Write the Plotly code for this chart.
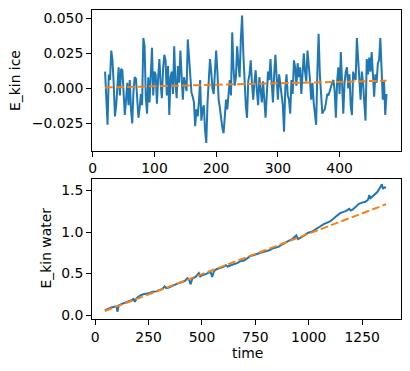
import numpy as np
import plotly.graph_objects as go

# ---- top panel: E_kin ice ----
ice_time = list(range(20, 477, 2))
ice_values = [
    0.012, -0.004, -0.026, 0.010, 0.006, 0.027, 0.020, 0.003, -0.020, -0.012,
    0.004, 0.015, -0.005, 0.014, 0.013, -0.004, -0.019, -0.008, 0.004, -0.012,
    0.006, -0.015, -0.025, -0.002, 0.008, 0.007, -0.010, -0.021, -0.014, -0.004,
    -0.012, 0.036, 0.030, -0.006, -0.018, 0.008, -0.010, 0.005, 0.029, -0.005,
    0.012, 0.010, -0.011, 0.008, 0.021, 0.003, -0.007, 0.014, 0.024, 0.020,
    -0.005, 0.016, -0.019, 0.008, 0.012, -0.004, 0.030, 0.004, -0.007, 0.016,
    0.004, 0.027, 0.006, -0.008, 0.008, 0.004, -0.002, 0.035, 0.020, 0.005,
    -0.003, -0.006, -0.010, -0.027, -0.015, -0.020, -0.010, 0.006, -0.023, -0.015,
    -0.012, -0.030, -0.039, -0.010, 0.008, 0.021, 0.012, 0.000, -0.004, 0.010,
    0.027, 0.012, -0.008, -0.014, -0.022, -0.028, -0.032, -0.018, -0.008, -0.015,
    -0.006, 0.006, -0.005, 0.040, 0.015, 0.002, 0.008, 0.030, 0.018, 0.008,
    0.035, 0.052, 0.025, 0.003, -0.012, -0.021, 0.005, 0.010, 0.020, 0.004,
    -0.008, 0.004, 0.013, -0.002, -0.012, 0.008, 0.000, -0.010, 0.005, -0.008,
    -0.021, -0.005, 0.012, 0.006, 0.021, 0.004, -0.010, 0.010, 0.024, 0.008,
    -0.008, 0.010, 0.003, -0.004, -0.012, -0.031, 0.000, 0.010, -0.005, -0.008,
    -0.018, 0.006, -0.004, 0.020, 0.015, 0.002, 0.018, 0.008, 0.015, -0.004,
    0.010, 0.025, 0.012, 0.005, 0.027, 0.012, 0.006, -0.008, 0.004, -0.010,
    -0.020, -0.026, 0.012, 0.039, 0.010, -0.006, -0.018, -0.016, -0.015, -0.010,
    -0.004, -0.005, -0.002, 0.002, 0.004, 0.006, -0.002, -0.021, 0.005, 0.015,
    -0.004, 0.026, 0.008, -0.018, 0.004, 0.012, 0.015, 0.000, 0.010, -0.012,
    -0.019, 0.012, 0.008, 0.006, 0.036, 0.020, 0.010, -0.008, 0.012, 0.004,
    -0.010, -0.023, 0.021, 0.010, 0.022, 0.012, 0.026, 0.008, -0.006, 0.010,
    0.004, 0.018, 0.020, 0.036, 0.015, -0.008, 0.005, -0.019, -0.004,
]
ice_trend_time = [20, 476]
ice_trend_values = [0.0007, 0.0055]

# ---- bottom panel: E_kin water ----
water_time = [
    45, 60, 75, 90, 100, 104, 110, 125, 140, 155, 170, 180, 186, 195, 210, 225,
    240, 255, 270, 285, 300, 315, 325, 333, 345, 360, 375, 390, 405, 420, 432,
    440, 447, 455, 470, 485, 492, 500, 515, 530, 540, 548, 556, 570, 585, 600,
    612, 620, 635, 650, 665, 680, 695, 710, 725, 740, 755, 770, 785, 800, 815,
    830, 845, 860, 875, 890, 905, 920, 935, 942, 950, 965, 980, 995, 1010, 1025,
    1040, 1055, 1070, 1085, 1100, 1115, 1130, 1145, 1160, 1175, 1190, 1197, 1205,
    1220, 1235, 1250, 1265, 1278, 1283, 1290, 1305, 1320, 1335, 1342, 1348, 1355,
    1362,
]
water_values = [
    0.055, 0.075, 0.090, 0.100, 0.105, 0.040, 0.115, 0.135, 0.150, 0.160, 0.180,
    0.195, 0.160, 0.205, 0.235, 0.250, 0.255, 0.265, 0.280, 0.285, 0.300, 0.315,
    0.345, 0.325, 0.330, 0.350, 0.375, 0.385, 0.395, 0.410, 0.445, 0.425, 0.370,
    0.440, 0.460, 0.505, 0.465, 0.480, 0.490, 0.505, 0.520, 0.460, 0.530, 0.555,
    0.565, 0.580, 0.600, 0.585, 0.600, 0.615, 0.625, 0.650, 0.655, 0.680, 0.710,
    0.720, 0.735, 0.750, 0.760, 0.770, 0.780, 0.800, 0.815, 0.825, 0.850, 0.875,
    0.895, 0.910, 0.950, 0.960, 0.915, 0.935, 0.960, 0.990, 1.000, 1.020, 1.050,
    1.070, 1.095, 1.110, 1.130, 1.160, 1.195, 1.225, 1.240, 1.255, 1.280, 1.260,
    1.270, 1.300, 1.340, 1.355, 1.365, 1.390, 1.445, 1.410, 1.440, 1.480, 1.540,
    1.575, 1.520, 1.540, 1.535,
]
water_trend_time = [45, 1362]
water_trend_values = [0.048, 1.335]

ice_yticks = [-0.025, 0.0, 0.025, 0.050]
ice_ytick_text = ["\u22120.025", "0.000", "0.025", "0.050"]
ice_xticks = [0, 100, 200, 300, 400]
water_yticks = [0.0, 0.5, 1.0, 1.5]
water_ytick_text = ["0.0", "0.5", "1.0", "1.5"]
water_xticks = [0, 250, 500, 750, 1000, 1250]

BLUE = "#1f77b4"
ORANGE = "#ff7f0e"
FONT = "DejaVu Sans"
FS = 13.9
LW = 2.0
DASH = "7.7px,3.3px"

W, H = 410, 371
ML, MR, MT, MB = 92, 9, 10, 52
PH = H - MT - MB

def ydom(top_px, bot_px):
    return [1 - (bot_px - MT) / PH, 1 - (top_px - MT) / PH]

fig = go.Figure()
fig.add_trace(go.Scatter(x=ice_time, y=ice_values, mode="lines",
                         line=dict(color=BLUE, width=LW), xaxis="x", yaxis="y"))
fig.add_trace(go.Scatter(x=ice_trend_time, y=ice_trend_values, mode="lines",
                         line=dict(color=ORANGE, width=LW, dash=DASH), xaxis="x", yaxis="y"))
fig.add_trace(go.Scatter(x=water_time, y=water_values, mode="lines",
                         line=dict(color=BLUE, width=LW), xaxis="x2", yaxis="y2"))
fig.add_trace(go.Scatter(x=water_trend_time, y=water_trend_values, mode="lines",
                         line=dict(color=ORANGE, width=LW, dash=DASH), xaxis="x2", yaxis="y2"))

axis_common = dict(
    showline=True, linecolor="black", linewidth=1.1, mirror=True,
    ticks="outside", ticklen=4.9, tickwidth=1.1, tickcolor="black",
    showgrid=False, zeroline=False, automargin=False,
    tickfont=dict(family=FONT, size=FS, color="black"),
)

def px_to_paper_x(px):
    return (px - ML) / (W - ML - MR)

def px_to_paper_y(py):
    return 1 - (py - MT) / PH

fig.update_layout(
    template="none",
    width=W, height=H,
    margin=dict(l=ML, r=MR, t=MT, b=MB, autoexpand=False),
    paper_bgcolor="white", plot_bgcolor="white",
    showlegend=False,
    font=dict(family=FONT, size=FS, color="black"),
    xaxis=dict(domain=[0, 1], anchor="y", range=[-1.2, 499.5], tickmode="array",
               tickvals=ice_xticks, ticktext=[str(v) for v in ice_xticks], **axis_common),
    yaxis=dict(domain=ydom(10, 150.7), anchor="x", range=[-0.0445, 0.0560], tickmode="array",
               tickvals=ice_yticks, ticktext=ice_ytick_text, **axis_common),
    xaxis2=dict(domain=[0, 1], anchor="y2", range=[-15, 1432], tickmode="array",
                tickvals=water_xticks, ticktext=[str(v) for v in water_xticks], **axis_common),
    yaxis2=dict(domain=ydom(179, 319), anchor="x2", range=[-0.048, 1.640], tickmode="array",
                tickvals=water_yticks, ticktext=water_ytick_text, **axis_common),
    annotations=[
        dict(text="E_kin ice", xref="paper", yref="paper", x=px_to_paper_x(15),
             y=px_to_paper_y(81), textangle=-90, showarrow=False,
             xanchor="center", yanchor="middle", font=dict(family=FONT, size=FS)),
        dict(text="E_kin water", xref="paper", yref="paper", x=px_to_paper_x(45.5),
             y=px_to_paper_y(248), textangle=-90, showarrow=False,
             xanchor="center", yanchor="middle", font=dict(family=FONT, size=FS)),
        dict(text="time", xref="paper", yref="paper", x=px_to_paper_x(247),
             y=px_to_paper_y(353), showarrow=False,
             xanchor="center", yanchor="middle", font=dict(family=FONT, size=FS)),
    ],
)

fig.write_html("out.html",
               config={"displayModeBar": False},
               post_script="document.body.style.margin='0';document.body.style.padding='0';")
